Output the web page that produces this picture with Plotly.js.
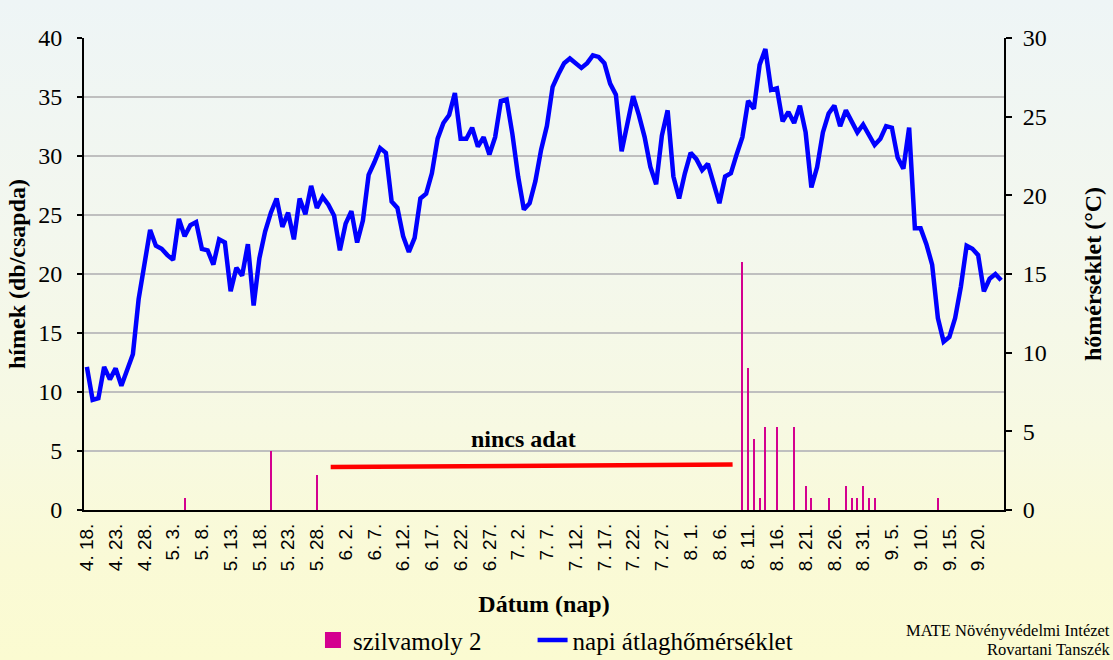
<!DOCTYPE html>
<html>
<head>
<meta charset="utf-8">
<script src="https://cdn.plot.ly/plotly-3.0.1.min.js"></script>
<style>
  html, body { margin: 0; padding: 0; }
  body { width: 1113px; height: 660px; overflow: hidden;
    background: linear-gradient(to bottom, #eef5f6 0%, #f3f7ee 35%, #f7f9e2 65%, #fafad6 85%, #fbfbd1 100%); }
  #chart { width: 1113px; height: 660px; }
</style>
</head>
<body>
<div id="chart"></div>
<script>
// Tick labels (every 5th day, starting 4.18.)
const tickLabels = ["4. 18.", "4. 23.", "4. 28.", "5. 3.", "5. 8.", "5. 13.", "5. 18.", "5. 23.", "5. 28.",
  "6. 2.", "6. 7.", "6. 12.", "6. 17.", "6. 22.", "6. 27.", "7. 2.", "7. 7.", "7. 12.", "7. 17.", "7. 22.", "7. 27.",
  "8. 1.", "8. 6.", "8. 11.", "8. 16.", "8. 21.", "8. 26.", "8. 31.", "9. 5.", "9. 10.", "9. 15.", "9. 20."];

// Daily mean temperature (°C), one value per day from 4.18. to 9.24.
const dailyTemp = [
  9.1, 7.0, 7.1, 9.1, 8.3, 9.0, 7.9, 8.9, 9.9, 13.4,
  15.6, 17.8, 16.8, 16.6, 16.2, 15.9, 18.5, 17.4, 18.1, 18.3,
  16.6, 16.5, 15.6, 17.2, 17.0, 13.9, 15.4, 14.9, 16.9, 13.0,
  16.0, 17.7, 18.9, 19.8, 18.0, 18.9, 17.2, 19.8, 18.8, 20.6,
  19.2, 19.9, 19.4, 18.7, 16.5, 18.2, 19.0, 17.0, 18.4, 21.3,
  22.1, 23.0, 22.7, 19.6, 19.2, 17.4, 16.4, 17.3, 19.8, 20.1,
  21.4, 23.6, 24.6, 25.1, 26.5, 23.6, 23.6, 24.3, 23.1, 23.7,
  22.6, 23.7, 26.0, 26.1, 23.9, 21.2, 19.1, 19.5, 20.9, 22.9,
  24.4, 26.9, 27.7, 28.4, 28.7, 28.4, 28.1, 28.4, 28.9, 28.8,
  28.4, 27.1, 26.4, 22.8, 24.5, 26.3, 25.1, 23.7, 21.8, 20.7,
  23.8, 25.4, 21.2, 19.8, 21.4, 22.7, 22.3, 21.6, 22.0, 20.8,
  19.5, 21.2, 21.4, 22.6, 23.7, 26.0, 25.5, 28.3, 29.3, 26.7,
  26.8, 24.7, 25.3, 24.6, 25.7, 24.0, 20.5, 21.8, 24.0, 25.2,
  25.7, 24.4, 25.4, 24.7, 24.0, 24.5, 23.8, 23.2, 23.6, 24.4,
  24.3, 22.4, 21.7, 24.3, 17.9, 17.9, 16.9, 15.6, 12.2, 10.7,
  11.0, 12.2, 14.2, 16.8, 16.6, 16.2, 13.9, 14.7, 15.0, 14.6
];

// Plum fruit moth catches (males / trap), non-zero days only
const mothDates = ["5. 5.", "5. 20.", "5. 28.", "8. 10.", "8. 11.", "8. 12.", "8. 13.", "8. 14.", "8. 16.", "8. 19.",
  "8. 21.", "8. 22.", "8. 25.", "8. 28.", "8. 29.", "8. 30.", "8. 31.", "9. 1.", "9. 2.", "9. 13."];
const mothCounts = [1, 5, 3, 21, 12, 6, 1, 7, 7, 7, 2, 1, 1, 2, 1, 1, 2, 1, 1, 1];

// "no data" period (day positions) and its marker level on the left axis
const noDataDays = [42.4, 112.3];
const noDataLevel = [3.65, 3.85];

const monthLen = {4: 30, 5: 31, 6: 30, 7: 31, 8: 31, 9: 30};
function dayIndex(label) {
  const parts = label.split('.').map(s => parseInt(s, 10));
  let idx = 0;
  for (let m = 4; m < parts[0]; m++) idx += monthLen[m];
  return idx + parts[1] - 18;
}

const nDays = dailyTemp.length;
const dayX = dailyTemp.map((_, i) => i);
const tickVals = tickLabels.map(dayIndex);
const boundaryVals = [];
for (let i = 0; i <= nDays; i += 5) boundaryVals.push(i - 0.5);

const serif = "Liberation Serif, Times New Roman, serif";
const sans = "Liberation Sans, Arial, sans-serif";
const mothColor = '#d4008f';

const traces = [
  {
    // legend entry for the bars (larger square swatch)
    type: 'scatter', mode: 'markers', name: 'szilvamoly 2', legendgroup: 'moth', legend: 'legend',
    x: [null], y: [null], marker: {symbol: 'square', size: 16, color: mothColor},
    xaxis: 'x', yaxis: 'y', hoverinfo: 'skip'
  },
  {
    type: 'bar', name: 'szilvamoly 2', legendgroup: 'moth', showlegend: false,
    x: mothDates.map(dayIndex), y: mothCounts,
    width: 0.35, marker: {color: mothColor, line: {width: 0}},
    xaxis: 'x', yaxis: 'y', hoverinfo: 'x+y'
  },
  {
    type: 'scatter', mode: 'lines', name: 'napi átlaghőmérséklet', legend: 'legend2',
    x: dayX, y: dailyTemp,
    line: {color: '#0000ff', width: 4.5},
    xaxis: 'x', yaxis: 'y2'
  },
  {
    type: 'scatter', mode: 'lines', name: 'nincs adat', showlegend: false,
    x: noDataDays, y: noDataLevel,
    line: {color: '#ff0000', width: 4.5},
    xaxis: 'x', yaxis: 'y'
  }
];

const legendCommon = {
  orientation: 'h', xref: 'container', yref: 'container',
  xanchor: 'left', y: 0.03, yanchor: 'middle',
  font: {family: serif, size: 25, color: '#000'},
  bgcolor: 'rgba(0,0,0,0)', itemwidth: 30
};

const layout = {
  width: 1113, height: 660,
  margin: {l: 84, r: 109, t: 38, b: 150, autoexpand: false},
  paper_bgcolor: 'rgba(0,0,0,0)',
  plot_bgcolor: 'rgba(0,0,0,0)',
  showlegend: true,
  bargap: 0,
  xaxis: {
    range: [-0.5, nDays - 0.5], tickmode: 'array', tickvals: tickVals, ticktext: tickLabels,
    tickangle: -90, ticks: '', showgrid: false, zeroline: false,
    showline: true, linecolor: '#000', linewidth: 2, ticklabelstandoff: 4,
    tickfont: {family: sans, size: 19, color: '#000'},
    title: {text: 'Dátum (nap)', font: {family: serif, size: 24, color: '#000', weight: 'bold'}, standoff: 26}
  },
  xaxis2: {
    overlaying: 'x', anchor: 'y', side: 'bottom',
    range: [-0.5, nDays - 0.5], tickmode: 'array', tickvals: boundaryVals,
    ticks: 'outside', ticklen: 7, tickwidth: 2, tickcolor: '#000',
    showticklabels: false, showgrid: false, zeroline: false, showline: false
  },
  yaxis: {
    range: [0, 40], dtick: 5, tick0: 0,
    showgrid: true, gridcolor: '#bfbfbf', gridwidth: 2, zeroline: false,
    showline: true, linecolor: '#000', linewidth: 2,
    ticks: 'outside', ticklen: 5, tickwidth: 2, tickcolor: '#000', ticklabelstandoff: 10,
    tickfont: {family: serif, size: 24, color: '#000'},
    title: {text: 'hímek (db/csapda)', font: {family: serif, size: 24, color: '#000', weight: 'bold'}, standoff: 6}
  },
  yaxis2: {
    overlaying: 'y', side: 'right', range: [0, 30], dtick: 5, tick0: 0,
    showgrid: false, zeroline: false,
    showline: true, linecolor: '#000', linewidth: 2,
    ticks: 'outside', ticklen: 6, tickwidth: 2, tickcolor: '#000', ticklabelstandoff: 6,
    tickfont: {family: serif, size: 24, color: '#000'},
    title: {text: 'hőmérséklet (°C)', font: {family: serif, size: 24, color: '#000', weight: 'bold'}, standoff: 38}
  },
  legend: Object.assign({}, legendCommon, {x: 0.2812}),
  legend2: Object.assign({}, legendCommon, {x: 0.4785}),
  annotations: [
    {
      xref: 'x', yref: 'y', x: (noDataDays[0] + noDataDays[1]) / 2 - 1.5, y: 6.0,
      text: '<b>nincs adat</b>', showarrow: false,
      font: {family: serif, size: 24, color: '#000'}
    },
    {
      xref: 'paper', yref: 'paper', x: 1.117, y: -0.256, xanchor: 'right', yanchor: 'middle',
      text: 'MATE Növényvédelmi Intézet', showarrow: false,
      font: {family: serif, size: 16.5, color: '#000'}
    },
    {
      xref: 'paper', yref: 'paper', x: 1.117, y: -0.295, xanchor: 'right', yanchor: 'middle',
      text: 'Rovartani Tanszék', showarrow: false,
      font: {family: serif, size: 16.5, color: '#000'}
    }
  ]
};

Plotly.newPlot('chart', traces, layout, {displayModeBar: false, responsive: false});
</script>
</body>
</html>
